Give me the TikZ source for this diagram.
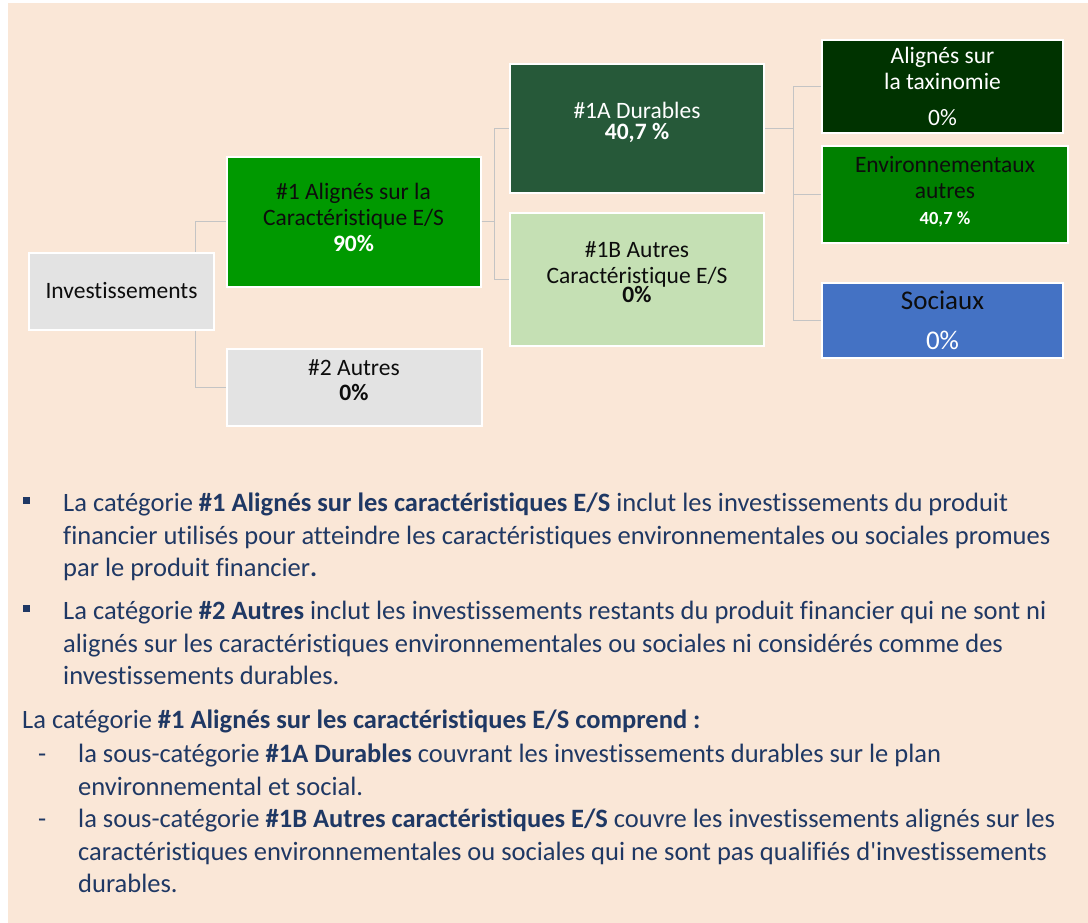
\documentclass[tikz,border=0pt]{standalone}
\usepackage{fontspec}
\setmainfont{Carlito}[Ligatures={TeXOff,NoCommon}]
\usetikzlibrary{positioning}

\definecolor{peach}{HTML}{FAE7D7}
\definecolor{greyfill}{HTML}{E3E3E3}
\definecolor{linegrey}{HTML}{C4C4C4}
\definecolor{navy}{HTML}{1F3864}
\definecolor{textblack}{HTML}{0D0D0D}
\definecolor{green90}{HTML}{009900}
\definecolor{durgreen}{HTML}{265939}
\definecolor{palegreen}{HTML}{C5E0B4}
\definecolor{taxogreen}{HTML}{003300}
\definecolor{envgreen}{HTML}{008000}
\definecolor{socblue}{HTML}{4472C4}

% invisible strut below the last line, lifts the text in a box
\newcommand{\lowstrut}[1]{\rule[-#1]{0pt}{#1}}

\tikzset{
  box/.style={shape=rectangle, draw=white, line width=2pt, align=center,
    text=textblack, inner sep=0pt, font=\fontsize{23.5}{26}\selectfont},
  link/.style={draw=linegrey, line width=1pt},
  para/.style={align=left, inner sep=0pt, text=navy, font=\fontsize{26.5}{32.5}\selectfont},
  bulletsq/.style={shape=rectangle, fill=navy, minimum size=7pt, inner sep=0pt},
}

\begin{document}
\begin{tikzpicture}[x=1pt, y=-1pt]

	\useasboundingbox (0,0) rectangle (1088,923);
	\fill[white] (0,0) rectangle (1088,923);
	\fill[peach] (8,3) rectangle (1088,923);

	% tree
	\node[box, fill=greyfill, minimum width=185, minimum height=77] (invest) at (121.5, 291) {Investissements};
	\node[box, fill=green90, minimum width=254, minimum height=129] (cat1) at (353.5, 222)
		{\#1 Alignés sur la\\Caractéristique E/S\\\textcolor{white}{\bfseries 90\%}\lowstrut{10pt}};
	\node[box, fill=greyfill, minimum width=255, minimum height=77] (cat2) at (354, 387)
		{\#2 Autres\\[-1pt]\bfseries 0\%\lowstrut{14pt}};
	\node[box, fill=durgreen, text=white, minimum width=254, minimum height=129] (dur) at (637, 128.5)
		{\#1A Durables\\[-5pt]\bfseries 40,7 \%\lowstrut{16pt}};
	\node[box, fill=palegreen, minimum width=254, minimum height=133] (autresES) at (637, 279.5)
		{\#1B Autres\\Caractéristique E/S\\[-7pt]\bfseries 0\%\lowstrut{14pt}};
	\node[box, fill=taxogreen, text=white, minimum width=241, minimum height=93] (taxo) at (942.5, 86.5)
		{Alignés sur\\la taxinomie\\[10pt]0\%};
	\node[box, fill=envgreen, minimum width=246, minimum height=97] (envi) at (945, 194.5)
		{Environnementaux\\autres\\\textcolor{white}{\fontsize{18.5}{20}\selectfont\bfseries 40,7 \%}\lowstrut{9pt}};
	\node[box, fill=socblue, minimum width=241, minimum height=75, font=\fontsize{27}{30}\selectfont] (soc) at (942.5, 320.5)
		{Sociaux\\[10pt]\textcolor{white}{0\%}};

	\draw[link] ([xshift=-20pt]invest.north east) |- (cat1.west);
	\draw[link] ([xshift=-20pt]invest.south east) |- (cat2.west);
	\draw[link] (cat1.east) -- ++(13,0) |- (dur.west);
	\draw[link] (cat1.east) -- ++(13,0) |- (autresES.west);
	\draw[link] (dur.east) -- ++(28,0) |- (taxo.west);
	\draw[link] (dur.east) -- ++(28,0) |- (envi.west);
	\draw[link] (dur.east) -- ++(28,0) |- (soc.west);

	% notes
	\node[bulletsq] (b1) at (26, 500.5) {};
	\node[para, anchor=north west] (p1) at (63, 493)
		{La catégorie \textbf{\#1 Alignés sur les caractéristiques E/S} inclut les investissements du produit\\
		financier utilisés pour atteindre les caractéristiques environnementales ou sociales promues\\
		par le produit financier\textbf{.}};
	\node[bulletsq] (b2) at (26, 608) {};
	\node[para, anchor=north west] (p2) at (63, 601)
		{La catégorie \textbf{\#2 Autres} inclut les investissements restants du produit financier qui ne sont ni\\
		alignés sur les caractéristiques environnementales ou sociales ni considérés comme des\\
		investissements durables.};
	\node[para, anchor=north west] (p3) at (22, 710)
		{La catégorie \textbf{\#1 Alignés sur les caractéristiques E/S comprend :}};
	\node[para, anchor=north west] (d1) at (38, 740) {\strut-};
	\node[para, anchor=north west] (p4) at (78, 740)
		{\strut la sous-catégorie \textbf{\#1A Durables} couvrant les investissements durables sur le plan\\
		environnemental et social.};
	\node[para, anchor=north west] (d2) at (38, 805) {\strut-};
	\node[para, anchor=north west] (p5) at (78, 805)
		{\strut la sous-catégorie \textbf{\#1B Autres caractéristiques E/S} couvre les investissements alignés sur les\\
		caractéristiques environnementales ou sociales qui ne sont pas qualifiés d'investissements\\
		durables.};

\end{tikzpicture}
\end{document}
